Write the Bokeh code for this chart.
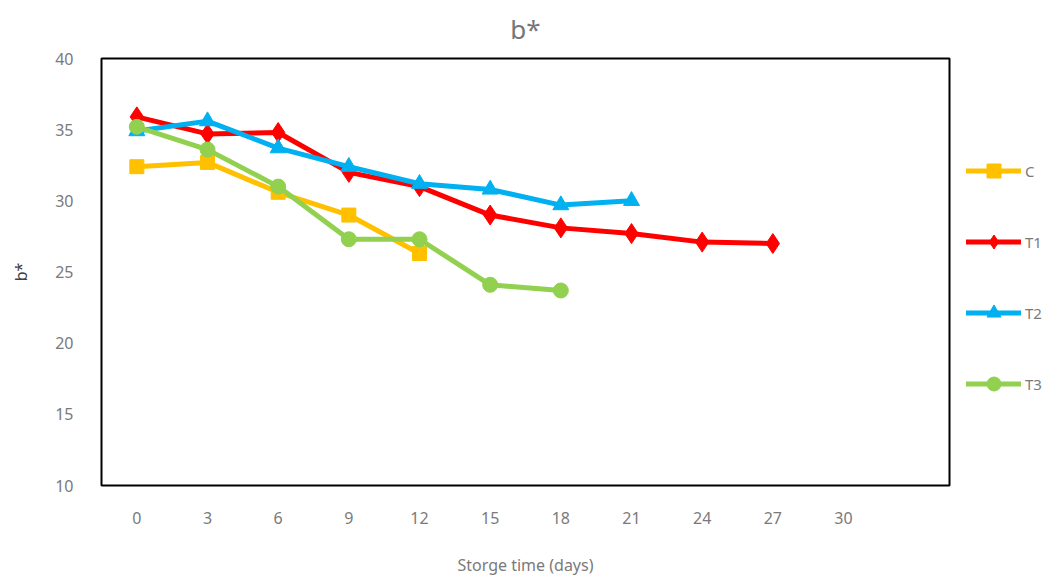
from bokeh.plotting import figure
from bokeh.models import Legend, LegendItem, FixedTicker, Range1d
from bokeh.embed import file_html
from bokeh.resources import INLINE

days_c = [0, 3, 6, 9, 12]
c_vals = [32.4, 32.7, 30.6, 29.0, 26.3]
days_t1 = [0, 3, 6, 9, 12, 15, 18, 21, 24, 27]
t1_vals = [35.9, 34.7, 34.8, 32.0, 31.0, 29.0, 28.1, 27.7, 27.1, 27.0]
days_t2 = [0, 3, 6, 9, 12, 15, 18, 21]
t2_vals = [34.9, 35.6, 33.7, 32.4, 31.2, 30.8, 29.7, 30.0]
days_t3 = [0, 3, 6, 9, 12, 15, 18]
t3_vals = [35.2, 33.6, 31.0, 27.3, 27.3, 24.1, 23.7]
x_ticks = [0, 3, 6, 9, 12, 15, 18, 21, 24, 27, 30]
y_ticks = [10, 15, 20, 25, 30, 35, 40]

FONT = "Noto Sans"
GRAY = "#7a7a7a"

p = figure(output_backend="svg", toolbar_location=None,
           frame_width=848, frame_height=427,
           min_border_left=101, min_border_top=56, min_border_bottom=88, min_border_right=94,
           x_range=Range1d(-1.5, 34.5), y_range=Range1d(10, 40))

p.title.text = "b*"
p.title.align = "center"
p.title.vertical_align = "top"
p.title.text_font = FONT
p.title.text_font_size = "26px"
p.title.text_font_style = "normal"
p.title.text_color = "#767676"
p.title.text_line_height = 0.7
p.title.standoff = 20

p.outline_line_color = "black"
p.outline_line_width = 2
p.xgrid.visible = False
p.ygrid.visible = False

for ax in (p.xaxis[0], p.yaxis[0]):
    ax.axis_line_color = None
    ax.major_tick_line_color = None
    ax.minor_tick_line_color = None
    ax.major_label_text_font = FONT
    ax.major_label_text_font_size = "16px"
    ax.major_label_text_color = GRAY
    ax.axis_label_text_font = FONT
    ax.axis_label_text_font_size = "16px"
    ax.axis_label_text_font_style = "normal"
    ax.axis_label_text_color = GRAY

p.xaxis.ticker = FixedTicker(ticks=x_ticks)
p.yaxis.ticker = FixedTicker(ticks=y_ticks)
p.xaxis.major_label_standoff = 20
p.yaxis.major_label_standoff = 22
p.xaxis.axis_label = "Storge time (days)"
p.xaxis.axis_label_standoff = 27
p.yaxis.axis_label = "b*"
p.yaxis.axis_label_text_color = "#404040"
p.yaxis.axis_label_standoff = 20

LW = 5
kw = dict(line_width=LW, line_cap="round", line_join="round")
rc = p.line(days_c, c_vals, line_color="#FFC000", **kw)
mc = p.scatter(days_c, c_vals, marker="square", size=14, color="#FFC000")
r1 = p.line(days_t1, t1_vals, line_color="#FF0000", **kw)
m1 = p.scatter(days_t1, t1_vals, marker="diamond", size=20, color="#FF0000")
r2 = p.line(days_t2, t2_vals, line_color="#00B0F0", **kw)
m2 = p.scatter(days_t2, t2_vals, marker="triangle", size=16, color="#00B0F0")
r3 = p.line(days_t3, t3_vals, line_color="#92D050", **kw)
m3 = p.scatter(days_t3, t3_vals, marker="circle", size=15, color="#92D050")

legend = Legend(items=[
    LegendItem(label="C", renderers=[rc, mc]),
    LegendItem(label="T1", renderers=[r1, m1]),
    LegendItem(label="T2", renderers=[r2, m2]),
    LegendItem(label="T3", renderers=[r3, m3]),
], location=(17, 84))
legend.border_line_color = None
legend.background_fill_alpha = 0
legend.glyph_width = 55
legend.glyph_height = 35
legend.spacing = 36
legend.label_standoff = 4
legend.label_text_font = FONT
legend.label_text_font_size = "15px"
legend.label_text_color = GRAY
legend.margin = 0
legend.padding = 0
legend.inactive_fill_alpha = 0
p.add_layout(legend, "right")

open("out.html", "w").write(file_html(p, INLINE))
